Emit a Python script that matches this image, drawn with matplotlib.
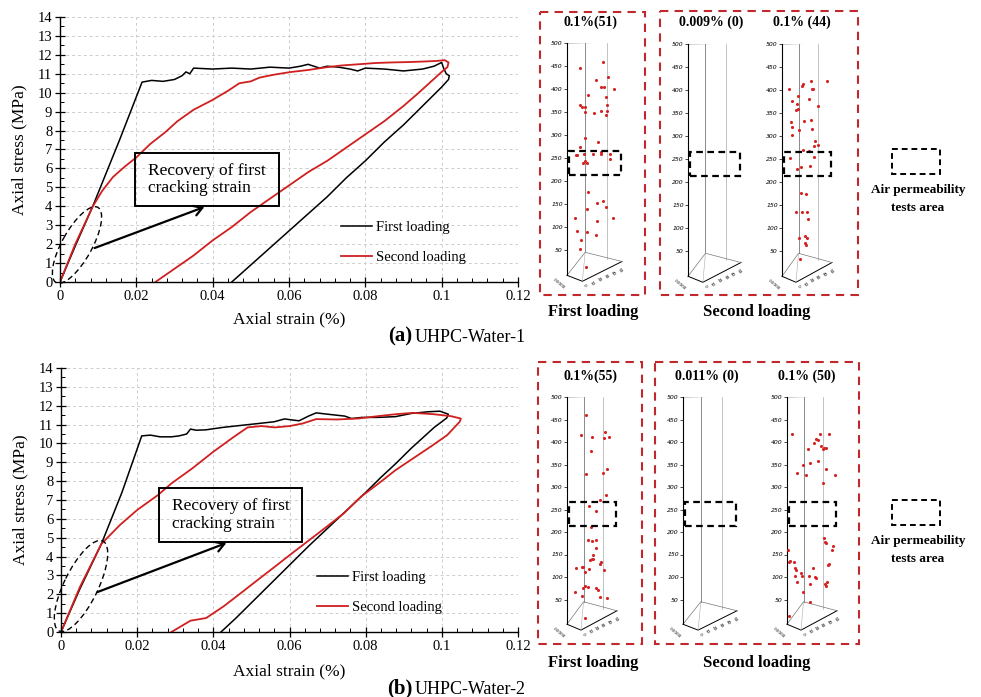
import matplotlib
matplotlib.use("Agg")
import matplotlib.pyplot as plt
from matplotlib.transforms import Affine2D
from matplotlib.patches import Rectangle, Ellipse, FancyArrowPatch
from matplotlib.ticker import MultipleLocator, FixedLocator, FixedFormatter

plt.rcParams['font.family'] = ['Liberation Serif', 'DejaVu Serif']

# ---------------- data ----------------
x_ticks = [0, 0.02, 0.04, 0.06, 0.08, 0.1, 0.12]
x_tick_labels = ["0", "0.02", "0.04", "0.06", "0.08", "0.1", "0.12"]
y_ticks = list(range(0, 15))
series_names = ["First loading", "Second loading"]

# (a) UHPC-Water-1
a_first_x = [0, 0.004, 0.0085, 0.0156, 0.0215, 0.024, 0.027, 0.030, 0.032, 0.033,
             0.034, 0.035, 0.040, 0.045, 0.050, 0.055, 0.060, 0.063, 0.065, 0.068,
             0.070, 0.073, 0.076, 0.078, 0.080, 0.085, 0.090, 0.095, 0.098, 0.100,
             0.1005, 0.1012, 0.102, 0.1018, 0.100, 0.095, 0.090, 0.085, 0.080, 0.075,
             0.070, 0.065, 0.060, 0.055, 0.050, 0.045]
a_first_y = [0, 1.9, 3.96, 7.5, 10.56, 10.65, 10.6, 10.7, 10.9, 11.1,
             11.0, 11.3, 11.25, 11.3, 11.25, 11.35, 11.3, 11.4, 11.5, 11.3,
             11.4, 11.35, 11.25, 11.15, 11.3, 11.25, 11.15, 11.25, 11.4, 11.6,
             11.3, 11.0, 10.9, 10.7, 10.3, 9.3, 8.3, 7.4, 6.4, 5.5,
             4.5, 3.6, 2.7, 1.8, 0.9, 0]
a_second_x = [0, 0.004, 0.0085, 0.011, 0.0139, 0.017, 0.0201, 0.0237, 0.0275, 0.0308,
              0.035, 0.0398, 0.044, 0.047, 0.050, 0.0523, 0.056, 0.0603, 0.065, 0.070,
              0.0738, 0.078, 0.0827, 0.087, 0.0916, 0.0955, 0.0988, 0.1008, 0.1018, 0.1015,
              0.100, 0.097, 0.094, 0.090, 0.085, 0.080, 0.075, 0.070, 0.065, 0.060,
              0.055, 0.050, 0.045, 0.040, 0.035, 0.030, 0.025]
a_second_y = [0, 2.0, 3.96, 4.8, 5.55, 6.1, 6.6, 7.3, 7.9, 8.5,
              9.1, 9.6, 10.1, 10.5, 10.6, 10.8, 10.95, 11.09, 11.2, 11.35,
              11.44, 11.5, 11.57, 11.6, 11.62, 11.65, 11.68, 11.72, 11.6, 11.35,
              11.1, 10.55, 10.0, 9.3, 8.5, 7.8, 7.1, 6.4, 5.8, 5.1,
              4.4, 3.7, 2.9, 2.2, 1.4, 0.7, 0]

# (b) UHPC-Water-2
b_first_x = [0, 0.005, 0.0106, 0.016, 0.0212, 0.0235, 0.026, 0.029, 0.031, 0.033,
             0.034, 0.0355, 0.038, 0.0425, 0.047, 0.052, 0.056, 0.0587, 0.0605, 0.0625,
             0.065, 0.067, 0.070, 0.0745, 0.0763, 0.079, 0.083, 0.0878, 0.092, 0.0965,
             0.0995, 0.1017, 0.1013, 0.098, 0.095, 0.092, 0.088, 0.084, 0.080, 0.075,
             0.070, 0.065, 0.060, 0.055, 0.050, 0.046, 0.042]
b_first_y = [0, 2.3, 4.67, 7.4, 10.4, 10.44, 10.35, 10.35, 10.4, 10.5,
             10.76, 10.7, 10.72, 10.85, 10.95, 11.06, 11.15, 11.3, 11.25, 11.2,
             11.45, 11.62, 11.55, 11.45, 11.32, 11.38, 11.38, 11.42, 11.59, 11.68,
             11.71, 11.55, 11.35, 10.85, 10.3, 9.75, 8.95, 8.2, 7.4, 6.45,
             5.5, 4.55, 3.55, 2.55, 1.55, 0.75, 0]
b_second_x = [0, 0.005, 0.0106, 0.0155, 0.020, 0.0255, 0.029, 0.0345, 0.040, 0.0454,
              0.049, 0.0526, 0.0562, 0.060, 0.0635, 0.067, 0.0725, 0.078, 0.0834, 0.0879,
              0.0924, 0.0978, 0.1023, 0.105, 0.1047, 0.1014, 0.097, 0.0924, 0.0879, 0.0834,
              0.0788, 0.0743, 0.0698, 0.0653, 0.0607, 0.0562, 0.0517, 0.0472, 0.0427, 0.0381,
              0.034, 0.029]
b_second_y = [0, 2.4, 4.67, 5.68, 6.47, 7.27, 7.88, 8.68, 9.56, 10.35,
              10.85, 10.92, 10.85, 10.92, 11.06, 11.29, 11.27, 11.32, 11.45, 11.55,
              11.62, 11.55, 11.45, 11.32, 11.15, 10.44, 9.82, 9.2, 8.59, 7.88,
              7.18, 6.3, 5.59, 4.89, 4.18, 3.47, 2.77, 2.06, 1.36, 0.74,
              0.6, 0]

# crack / point maps (position across, height in mm)
panel_titles = ["0.1%(51)", "0.009% (0)", "0.1% (44)", "0.1%(55)", "0.011% (0)", "0.1% (50)"]
pt_a1_x = [23, 65, 75, 53, 62, 68, 85, 38, 24, 28, 33, 32, 49, 70, 72, 70, 62, 73, 32, 56,
           24, 16, 18, 30, 32, 29, 36, 48, 62, 61, 79, 78, 39, 55, 36, 66, 70, 14, 54, 83,
           18, 36, 26, 24, 52, 35]
pt_a1_y = [446, 458, 426, 420, 404, 404, 400.6, 387, 366, 361, 361, 349, 347, 382, 353, 342.5, 353, 365, 294, 284,
           273, 255.5, 257, 258, 244, 240, 239, 259, 259, 262, 259, 247.5, 176, 152, 139, 156, 143, 120.5, 112, 119,
           92, 90, 72, 52, 82, 14]
pt_a2_x = []
pt_a2_y = []
pt_a3_x = [13, 20, 32, 29, 32, 27, 18, 20, 19, 33, 40, 42, 57, 60, 61, 53, 89, 72, 44, 58,
           60, 65, 71, 63, 41, 53, 63, 15, 37, 30, 55, 37, 48, 27, 40, 50, 52, 33, 45, 50,
           45, 47, 35]
pt_a3_y = [402, 377, 388, 369, 358.5, 355.6, 331, 320, 302, 314, 409.6, 414, 419, 403, 401.5, 381, 420, 366, 333, 334.4,
           315, 288.5, 280.5, 278, 270, 267, 254, 252, 232, 228, 234.5, 176, 175, 135.3, 134, 134, 119, 79, 82, 77.7,
           67.5, 64, 33]
pt_b1_x = [38, 27, 49, 75, 83, 74, 48, 37, 71, 79, 77, 65, 43, 58, 47, 41, 50, 58, 58, 51,
           49, 51, 45, 67, 65, 73, 17, 29, 31, 35, 43, 35, 31, 41, 57, 62, 15, 30, 65, 80, 35]
pt_b1_y = [461, 416, 412, 421.5, 411, 408, 379, 328, 331, 339, 282, 270.5, 257, 247.6, 211, 183, 179.5, 182.5, 165, 150,
           140, 139, 137, 133, 130, 114.6, 119, 122.5, 122, 111, 118, 80, 76, 78, 76, 71, 67, 57.4, 55, 53.7, 9]
pt_b2_x = []
pt_b2_y = []
pt_b3_x = [9, 19, 32, 37, 42, 45, 53, 57, 62, 61, 65, 68, 71, 73, 77, 78, 83, 71, 95, 2,
           5, 13, 15, 17, 20, 27, 31, 43, 45, 52, 55, 57, 45, 73, 75, 77, 81, 83, 76, 77,
           80, 90, 92, 3, 29, 15, 3]
pt_b3_y = [417, 332, 350, 326, 385, 354, 397, 407, 404, 357, 417, 391, 383.5, 386, 387, 341, 417, 308, 327, 161,
           136, 133, 119.5, 116.5, 88.5, 109, 66, 103, 85, 119.5, 100, 97, 44, 186, 177, 175.5, 127, 128, 84, 81,
           88.5, 159, 170, 134, 101.8, 102, 12.5]
test_zone = (214, 266)  # air-permeability test area height (mm)
depth_ticks = ["0", "10", "20", "30", "40", "50"]

# ---------------- figure ----------------
W, H = 981, 697
fig = plt.figure(figsize=(W / 100, H / 100), dpi=100)
PX = Affine2D().scale(1 / 100, -1 / 100).translate(0, H / 100) + fig.dpi_scale_trans


def fbox(x0, y0, x1, y1):
    return [x0 / W, 1 - y1 / H, (x1 - x0) / W, (y1 - y0) / H]


def ftext(x, y, s, **kw):
    fig.text(x / W, 1 - y / H, s, **kw)


def main_chart(rect, fx, fy, sx, sy, ann, ell, arrow, leg_xy, xlabel_y, caption_y, tag, name):
    ax = fig.add_axes(fbox(*rect))
    ax.plot(fx, fy, color="black", lw=1.1, label=series_names[0])
    ax.plot(sx, sy, color="#d01f1f", lw=1.3, label=series_names[1])
    ax.set_xlim(0, 0.12)
    ax.set_ylim(0, 14)
    ax.xaxis.set_major_locator(FixedLocator(x_ticks))
    ax.xaxis.set_major_formatter(FixedFormatter(x_tick_labels))
    ax.yaxis.set_major_locator(FixedLocator(y_ticks))
    ax.xaxis.set_minor_locator(MultipleLocator(0.004))
    ax.yaxis.set_minor_locator(MultipleLocator(0.5))
    ax.tick_params(which="major", direction="inout", length=7, width=0.9, labelsize=10.5, pad=2)
    ax.tick_params(which="minor", direction="in", length=3, width=0.7)
    for s in ["top", "right"]:
        ax.spines[s].set_visible(False)
    for s in ["left", "bottom"]:
        ax.spines[s].set_linewidth(1.0)
    ax.grid(True, which="major", ls=(0, (3, 3)), color="#cdcdcd", lw=0.7)
    ax.set_axisbelow(True)
    ax.set_ylabel("Axial stress (MPa)", fontsize=12.5)
    ax.yaxis.set_label_coords(-0.072, 0.5)
    ftext((rect[0] + rect[2]) / 2 + 0, xlabel_y, "Axial strain (%)", fontsize=12.5,
          ha="center", va="center")
    # annotation box
    bx0, by0, bx1, by1 = ann
    fig.add_artist(Rectangle((bx0, by0), bx1 - bx0, by1 - by0, transform=PX,
                             fill=False, ec="black", lw=1.4))
    ftext(bx0 + 13, (by0 + by1) / 2, "Recovery of first\ncracking strain", fontsize=12.5,
          ha="left", va="center", linespacing=1.15)
    cx, cy, ew, eh, ang = ell
    fig.add_artist(Ellipse((cx, cy), ew, eh, angle=ang, transform=PX, fill=False,
                           ec="black", lw=1.0, ls=(0, (4, 2.5))))
    (ax0, ay0), (ax1, ay1) = arrow
    fig.add_artist(FancyArrowPatch((ax0, ay0), (ax1, ay1), transform=PX,
                                   arrowstyle="->,head_length=0.5,head_width=0.3",
                                   mutation_scale=12, lw=1.6, color="black"))
    ax.legend(loc="upper left", bbox_to_anchor=(leg_xy[0] / W, 1 - leg_xy[1] / H),
              bbox_transform=fig.transFigure, frameon=False, fontsize=10.5,
              handlelength=2.1, handletextpad=0.3, labelspacing=1.15,
              borderpad=0, borderaxespad=0)
    ftext(412, caption_y, tag, fontsize=15, fontweight="bold", ha="right", va="center")
    ftext(415, caption_y + 1, name, fontsize=13, ha="left", va="center")
    return ax


main_chart((60, 17, 518, 282), a_first_x, a_first_y, a_second_x, a_second_y,
           (135, 153, 279, 206), (77, 245, 86, 30, -61), ((92, 249), (207, 206)),
           (341, 221), 319, 336, "(a)", "UHPC-Water-1")
main_chart((61, 368, 518, 632), b_first_x, b_first_y, b_second_x, b_second_y,
           (159, 488, 302, 542), (81, 586, 100, 34, -64), ((95, 593), (229, 542)),
           (317, 571), 671, 688, "(b)", "UHPC-Water-2")


def point_panel(x0, x1, ytop, scale, title, title_xy, px, py):
    ylo = -25
    ax = fig.add_axes(fbox(x0, ytop, x1, ytop + (500 - ylo) * scale))
    ax.set_xlim(0, 100)
    ax.set_ylim(ylo, 500)
    ax.patch.set_alpha(0)
    for s in ["top", "right", "bottom"]:
        ax.spines[s].set_visible(False)
    ax.spines["left"].set_bounds(-5, 500)
    ax.spines["left"].set_linewidth(0.8)
    ax.set_xticks([])
    ax.set_yticks(list(range(50, 501, 50)))
    ax.tick_params(axis="y", length=2, width=0.5, labelsize=4.4, pad=1)
    for lab in ax.get_yticklabels():
        lab.set_family("DejaVu Sans")
        lab.set_style("italic")
    g = "#777777"
    ax.plot([0, 100], [500, 502], color=g, lw=0.6)
    ax.plot([33, 33], [500, 45], color=g, lw=0.6)
    ax.plot([72, 72], [500, 30], color="#aaaaaa", lw=0.5)
    ax.plot([100, 100], [502, 25], color=g, lw=0.6)
    ax.plot([0, 28, 100], [-5, -18, 25], color="black", lw=0.7, clip_on=False)
    ax.plot([0, 33, 100], [-5, 45, 25], color=g, lw=0.5, clip_on=False)
    ax.plot([28, 33], [-18, 45], color="#aaaaaa", lw=0.4, clip_on=False)
    for i, t in enumerate(depth_ticks):
        ax.text(32 + i * 13, -22 + i * 7, t, fontsize=3, rotation=-55,
                ha="center", va="top", family="DejaVu Sans", clip_on=False)
    ax.text(-3, -10, "0.0000", fontsize=3, rotation=-40, ha="right", va="top",
            family="DejaVu Sans", clip_on=False)
    if px:
        ax.scatter(px, py, s=5, color="#d42323", zorder=3, clip_on=False, linewidths=0)
    ax.add_patch(Rectangle((3, test_zone[0]), 95, test_zone[1] - test_zone[0], fill=False,
                           ec="black", lw=1.6, ls=(0, (3, 2)), zorder=4, clip_on=False))
    ftext(title_xy[0], title_xy[1], title, fontsize=10, fontweight="bold", ha="center", va="center")


point_panel(567, 622, 43, 0.46, panel_titles[0], (590, 22), pt_a1_x, pt_a1_y)
point_panel(688, 741, 44, 0.46, panel_titles[1], (711, 22), pt_a2_x, pt_a2_y)
point_panel(782, 832, 44, 0.46, panel_titles[2], (802, 22), pt_a3_x, pt_a3_y)
point_panel(567, 617, 397, 0.45, panel_titles[3], (590, 376), pt_b1_x, pt_b1_y)
point_panel(683, 737, 397, 0.45, panel_titles[4], (707, 376), pt_b2_x, pt_b2_y)
point_panel(787, 837, 397, 0.45, panel_titles[5], (807, 376), pt_b3_x, pt_b3_y)

red = "#c0282d"
for (x0, y0, x1, y1) in [(540, 12, 645, 295), (660, 11, 858, 295),
                         (538, 362, 642, 644), (655, 362, 859, 644)]:
    fig.add_artist(Rectangle((x0, y0), x1 - x0, y1 - y0, transform=PX, fill=False,
                             ec=red, lw=1.5, ls=(0, (4, 3))))

for yy in (312, 663):
    ftext(593, yy, "First loading", fontsize=12, fontweight="bold", ha="center", va="center")
    ftext(757, yy, "Second loading", fontsize=12, fontweight="bold", ha="center", va="center")

for (ry, ty) in [(149, 190), (500, 541)]:
    fig.add_artist(Rectangle((892, ry), 48, 25, transform=PX, fill=False, ec="black",
                             lw=1.4, ls=(0, (3, 2))))
    ftext(918, ty, "Air permeability", fontsize=9.5, fontweight="bold", ha="center", va="center")
    ftext(918, ty + 18, "tests area", fontsize=9.5, fontweight="bold", ha="center", va="center")

fig.savefig("out.png", dpi=100)
